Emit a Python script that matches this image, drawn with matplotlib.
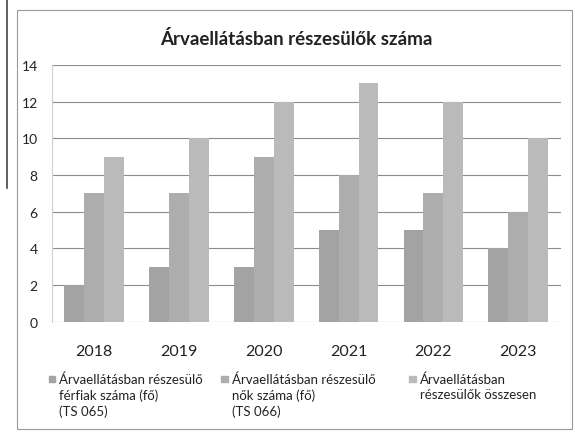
import matplotlib.pyplot as plt
import numpy as np

plt.rcParams['font.family'] = ['Lato', 'DejaVu Sans']

years = ['2018', '2019', '2020', '2021', '2022', '2023']
men = [2, 3, 3, 5, 5, 4]
women = [7, 7, 9, 8, 7, 6]
total = [9, 10, 12, 13, 12, 10]
labels = ['Árvaellátásban részesülő\nférfiak száma (fő)\n(TS 065)',
          'Árvaellátásban részesülő\nnők száma (fő)\n(TS 066)',
          'Árvaellátásban\nrészesülők összesen']
colors = ['#a3a3a3', '#adadad', '#bababa']

fig = plt.figure(figsize=(5.75, 4.39), dpi=100)
ax = fig.add_axes([0.09, 0.265, 0.885, 0.585])

x = np.arange(len(years))
w = 0.235
for i, (vals, c) in enumerate(zip([men, women, total], colors)):
    ax.bar(x + (i - 1) * w, vals, w, color=c, zorder=2)

ax.set_ylim(0, 14)
ax.set_yticks(range(0, 15, 2))
ax.set_xlim(-0.5, len(years) - 0.5)
ax.set_xticks(x)
ax.set_xticklabels(years, fontsize=11.5, color='#222222')
ax.tick_params(axis='y', labelsize=10, length=0, pad=10, labelcolor='#222222')
ax.tick_params(axis='x', length=0, pad=16)
ax.grid(axis='y', color='#8c8c8c', linewidth=0.8, zorder=0)
for s in ['top', 'right', 'bottom']:
    ax.spines[s].set_visible(False)
ax.spines['left'].set_color('#d0d0d0')

fig.text(0.515, 0.912, 'Árvaellátásban részesülők száma', ha='center', va='center',
         fontsize=13.5, fontweight='bold', color='#222222')

# legend: small square beside the first text line
legend_x = [0.085, 0.385, 0.712]
for lx, lab, c in zip(legend_x, labels, colors):
    fig.patches.append(plt.Rectangle((lx, 0.127), 0.011, 0.014, transform=fig.transFigure,
                                     color=c))
    fig.text(lx + 0.018, 0.15, lab, ha='left', va='top', fontsize=9.5,
             color='#222222', linespacing=1.35)

# chart frame
fig.patches.append(plt.Rectangle((0.03, 0.02), 0.965, 0.955, transform=fig.transFigure,
                                 fill=False, edgecolor='#9a9a9a', linewidth=0.8))
fig.lines.append(plt.Line2D([0.013, 0.013], [0.57, 1.0], transform=fig.transFigure,
                            color='#444444', linewidth=1.2))

plt.savefig('out.png', dpi=100)
